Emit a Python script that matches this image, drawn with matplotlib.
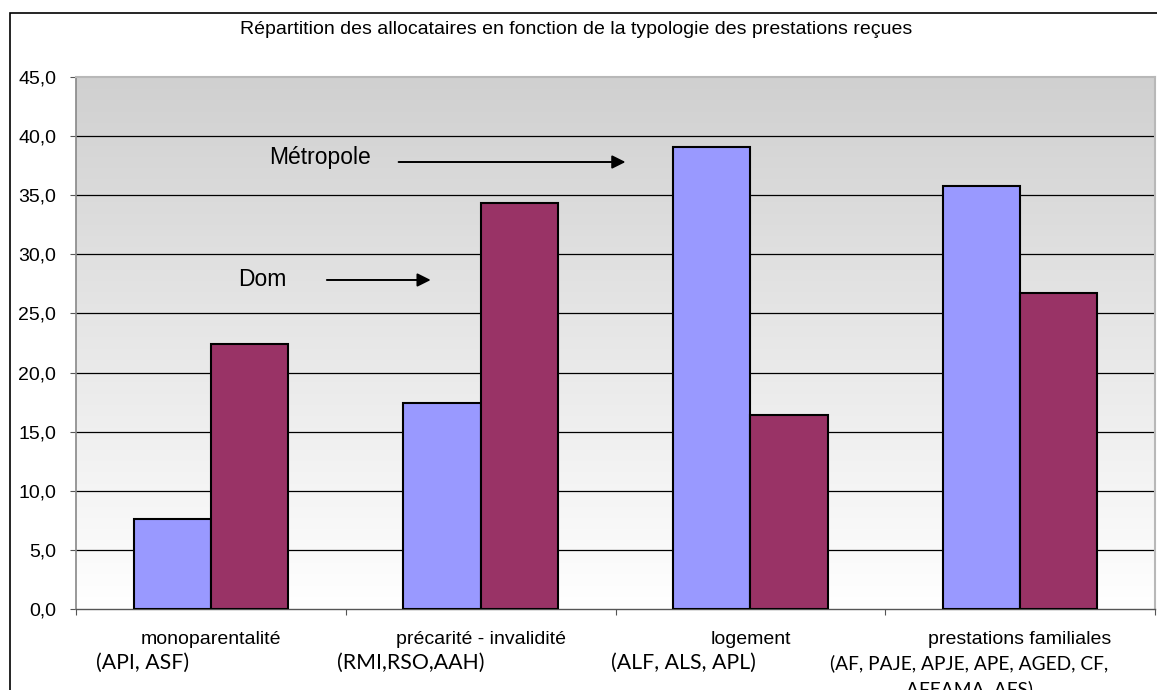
import matplotlib
matplotlib.use("Agg")
import matplotlib.pyplot as plt
import numpy as np
from matplotlib.patches import Rectangle
from matplotlib.ticker import FuncFormatter

categories = ["monoparentalité", "précarité - invalidité", "logement", "prestations familiales"]
sublabels = ["(API, ASF)", "(RMI,RSO,AAH)", "(ALF, ALS, APL)", "(AF, PAJE, APJE, APE, AGED, CF,", "AFEAMA, AFS)"]
metropole = [7.6, 17.4, 39.1, 35.8]
dom = [22.4, 34.3, 16.4, 26.7]
yticks = [0, 5, 10, 15, 20, 25, 30, 35, 40, 45]
title = "Répartition des allocataires en fonction de la typologie des prestations reçues"

W, H = 1157, 690
plt.rcParams['font.family'] = ['Liberation Sans', 'DejaVu Sans']
fig = plt.figure(figsize=(W / 100, H / 100), dpi=100)

# figure border
fig.patches.append(Rectangle((9.5 / W, -0.1), 2, (H - 12.5) / H + 0.1, transform=fig.transFigure,
                             fill=False, edgecolor='black', linewidth=1.2))

L, R, T, B = 76, 1155, 77, 609
ax = fig.add_axes([L / W, (H - B) / H, (R - L) / W, (B - T) / H])
ax.set_facecolor('none')

# gradient background
grad = np.linspace(0, 1, 256).reshape(-1, 1)
cmap = matplotlib.colors.LinearSegmentedColormap.from_list('g', ['#ffffff', '#d0d0d0'])
ax.imshow(grad, aspect='auto', cmap=cmap, extent=[-0.5, 3.5, 0, 45], origin='lower', zorder=0)

x = np.arange(len(categories))
bw = 0.286
ax.bar(x - bw / 2, metropole, width=bw, color='#9999ff', edgecolor='black', linewidth=1.5, zorder=3)
ax.bar(x + bw / 2, dom, width=bw, color='#993366', edgecolor='black', linewidth=1.5, zorder=3)

ax.set_xlim(-0.5, 3.5)
ax.set_ylim(0, 45)
for yv in yticks[1:-1]:
    ax.axhline(yv, color='black', linewidth=0.9, zorder=1)

ax.set_yticks(yticks)
ax.yaxis.set_major_formatter(FuncFormatter(lambda v, p: f"{v:.1f}".replace('.', ',')))
ax.tick_params(axis='y', direction='out', length=4.3, width=0.8, labelsize=14, pad=10, color='#555555')
ax.set_xticks([-0.5, 0.5, 1.5, 2.5, 3.5])
ax.set_xticklabels([])
ax.tick_params(axis='x', direction='out', length=4.5, width=0.8, color='#555555')

for s in ['top', 'right']:
    ax.spines[s].set_color('#b8b8b8')
    ax.spines[s].set_linewidth(1.5)
ax.spines['left'].set_color('#888888')
ax.spines['left'].set_linewidth(1.2)
ax.spines['bottom'].set_color('#555555')
ax.spines['bottom'].set_linewidth(1.0)

# category labels
for i, c in enumerate(categories):
    ax.text(i, -2.54, c, ha='center', va='center', fontsize=14, clip_on=False)

subfont = ['Lato', 'DejaVu Sans']
ax.text(-0.426, -4.57, sublabels[0], ha='left', va='center', fontsize=15.3, family=subfont, clip_on=False)
ax.text(0.467, -4.57, sublabels[1], ha='left', va='center', fontsize=15.3, family=subfont, clip_on=False)
ax.text(1.485, -4.57, sublabels[2], ha='left', va='center', fontsize=15.3, family=subfont, clip_on=False)
ax.text(2.811, -4.57, sublabels[3], ha='center', va='center', fontsize=13.8, family=subfont, clip_on=False)
ax.text(2.811, -6.75, sublabels[4], ha='center', va='center', fontsize=13.8, family=subfont, clip_on=False)

# annotations
ax.text(0.215, 38.23, "Métropole", ha='left', va='center', fontsize=16.5)
ax.annotate("", xy=(1.537, 37.81), xytext=(0.696, 37.81),
            arrowprops=dict(arrowstyle='-|>', color='black', lw=1.4, mutation_scale=20,
                            shrinkA=0, shrinkB=0), zorder=5)
ax.text(0.10, 27.83, "Dom", ha='left', va='center', fontsize=16.5)
ax.annotate("", xy=(0.815, 27.83), xytext=(0.43, 27.83),
            arrowprops=dict(arrowstyle='-|>', color='black', lw=1.4, mutation_scale=20,
                            shrinkA=0, shrinkB=0), zorder=5)

fig.text(576 / W, 1 - 30 / H, title, ha='center', va='center', fontsize=14)

fig.savefig("out.png", dpi=100, facecolor='white')
